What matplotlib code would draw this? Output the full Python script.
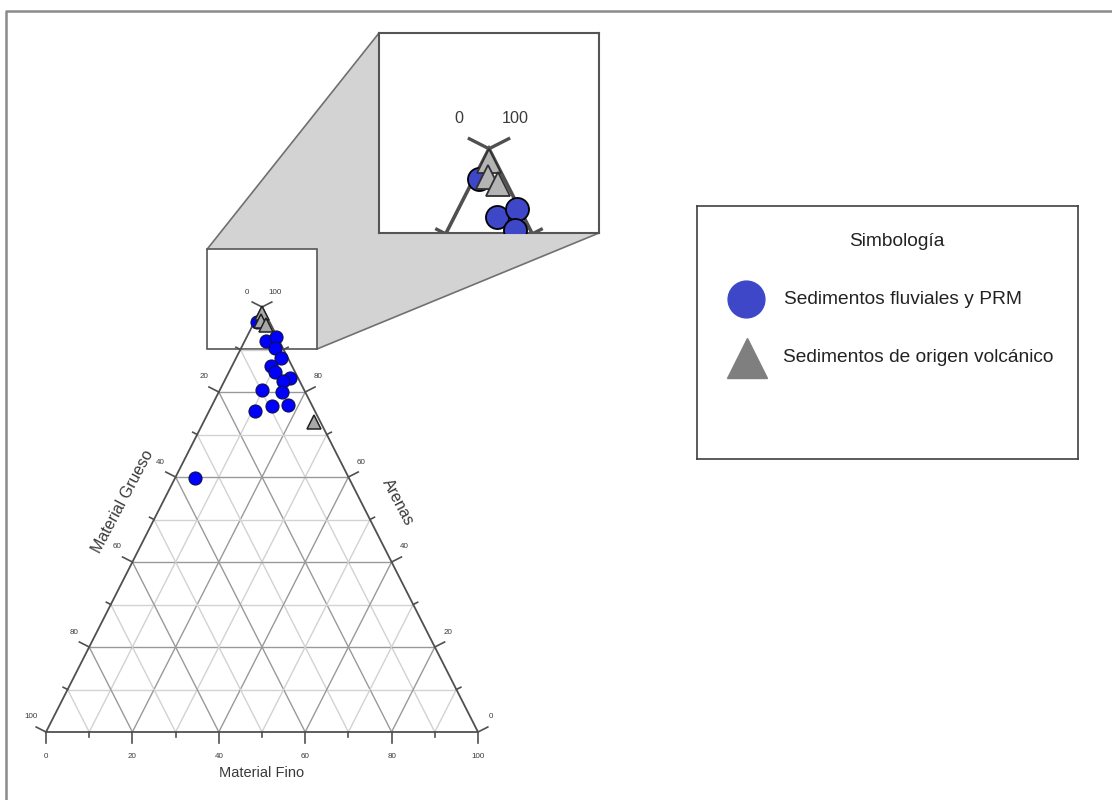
import numpy as np
import matplotlib
matplotlib.use('Agg')
import matplotlib.pyplot as plt
from matplotlib.patches import Polygon, Rectangle
from matplotlib.lines import Line2D

plt.rcParams['font.family'] = ['Liberation Sans', 'DejaVu Sans']

# Sedimentos fluviales y PRM (%)
fino_fluv = [0.6, 4.9, 6.8, 7.8, 10.4, 9.0, 10.7, 14.8, 13.6, 9.8, 14.6, 10.6, 14.0, 17.6, 4.6]
arenas_fluv = [96.5, 92.0, 92.9, 90.4, 88.0, 86.1, 84.7, 83.3, 82.6, 80.5, 80.0, 75.5, 76.7, 76.9, 59.8]
grueso_fluv = [2.9, 3.1, 0.3, 1.8, 1.6, 4.9, 4.6, 1.9, 3.8, 9.7, 5.4, 13.9, 9.3, 5.5, 35.6]

# Sedimentos de origen volcanico (%)
fino_volc = [25.6, 0.7, 1.5, 3.1]
arenas_volc = [72.9, 98.6, 96.7, 95.8]
grueso_volc = [1.5, 0.7, 1.8, 1.1]

tick_vals = [0, 20, 40, 60, 80, 100]

FW, FH = 1112, 800
X0, Y0, W, H = 46, 732, 432, 425      # triangle corner + size (px)
ZX, ZY = (37.3, 62.7), (90.1, 113.6)  # zoom window, data units

grid_major = '#999999'
grid_minor = '#d2d2d2'
edge_col = '#505050'
txt_col = '#3a3a3a'


def tern_xy(f, a, g):
    f, a, g = np.asarray(f, float), np.asarray(a, float), np.asarray(g, float)
    tot = f + a + g
    a = a / tot * 100
    f = f / tot * 100
    return f + a / 2, a


# outward normals of the side edges (pixel space)
nrm = np.hypot(H, W / 2)
nL = np.array([-H, W / 2]) / nrm
nR = np.array([H, W / 2]) / nrm
pxu_x, pxu_y = W / 100, H / 100


def draw_ternary(a, s, main):
    clip = not main
    for v in range(10, 100, 10):
        col = grid_major if v % 20 == 0 else grid_minor
        a.plot([v / 2, 100 - v / 2], [v, v], color=col, lw=1.0 * s, zorder=1, clip_on=clip)
        a.plot([v, v + (100 - v) / 2], [0, 100 - v], color=col, lw=1.0 * s, zorder=1, clip_on=clip)
        a.plot([100 - v, (100 - v) / 2], [0, 100 - v], color=col, lw=1.0 * s, zorder=1, clip_on=clip)
    a.plot([0, 100, 50, 0], [0, 0, 100, 0], color=edge_col, lw=1.3 * s, zorder=2,
           clip_on=clip, solid_joinstyle='miter')

    # ticks
    for v in range(0, 101, 10):
        L = 11 if v % 20 == 0 else 5
        # bottom
        a.plot([v, v], [0, -L / pxu_y], color=edge_col, lw=1.2 * s, zorder=2, clip_on=clip)
        # left
        px, py = v / 2, v
        a.plot([px, px + nL[0] * L / pxu_x], [py, py + nL[1] * L / pxu_y],
               color=edge_col, lw=1.2 * s, zorder=2, clip_on=clip)
        # right
        px = 100 - v / 2
        a.plot([px, px + nR[0] * L / pxu_x], [py, py + nR[1] * L / pxu_y],
               color=edge_col, lw=1.2 * s, zorder=2, clip_on=clip)

    for v in tick_vals:
        kw = dict(textcoords='offset pixels', ha='center', va='center',
                  fontsize=5.8 * s, color=txt_col, annotation_clip=clip)
        a.annotate(str(v), (v, 0), xytext=(0, -24 * s), **kw)
        a.annotate(str(100 - v), (v / 2, v), xytext=(-15 * s, 15 * s), **kw)
        a.annotate(str(v), (100 - v / 2, v), xytext=(13 * s, 15 * s), **kw)

    # data
    xf, yf = tern_xy(fino_fluv, arenas_fluv, grueso_fluv)
    xv, yv = tern_xy(fino_volc, arenas_volc, grueso_volc)
    if main:
        a.plot(xf, yf, 'o', ms=9.4, mfc='#0000ff', mec='#10104a', mew=0.8,
               ls='none', zorder=3, clip_on=False)
        a.plot(xv, yv, '^', ms=9.5, mfc='#a8a8a8', mec='#202020', mew=1.1,
               ls='none', zorder=4, clip_on=False)
    else:
        a.plot(xf, yf, 'o', ms=16.6, mfc='#3f47c9', mec='#000000', mew=1.3,
               ls='none', zorder=3, clip_on=True)
        a.plot(xv, yv, '^', ms=17, mfc='#b4b4b4', mec='#303030', mew=1.3,
               ls='none', zorder=4, clip_on=True)


fig = plt.figure(figsize=(FW / 100, FH / 100), dpi=100)

ax = fig.add_axes([X0 / FW, 1 - Y0 / FH, W / FW, H / FH])
ax.set_xlim(0, 100)
ax.set_ylim(0, 100)
ax.axis('off')
draw_ternary(ax, 1, True)

# axis titles
ax.annotate('Material Fino', (50, 0), xytext=(0, -41), textcoords='offset pixels',
            ha='center', va='center', fontsize=10.5, color=txt_col, annotation_clip=False)
ax.annotate('Material Grueso', (25, 50), xytext=(-31, 17.5), textcoords='offset pixels',
            ha='center', va='center', fontsize=11.5, rotation=62, color=txt_col,
            annotation_clip=False)
ax.annotate('Arenas', (75, 50), xytext=(28, 17.5), textcoords='offset pixels',
            ha='center', va='center', fontsize=11.5, rotation=-62, color=txt_col,
            annotation_clip=False)

# small zoom box
ax.add_patch(Rectangle((ZX[0], ZY[0]), ZX[1] - ZX[0], ZY[1] - ZY[0], facecolor='white',
                       edgecolor='#555555', lw=1.2, zorder=0.5, clip_on=False))

# zoomed inset
axin = fig.add_axes([379 / FW, 1 - 233 / FH, 220 / FW, 200 / FH], zorder=2)
axin.set_xlim(*ZX)
axin.set_ylim(*ZY)
axin.set_xticks([])
axin.set_yticks([])
for sp in axin.spines.values():
    sp.set_color('#555555')
    sp.set_linewidth(1.5)
draw_ternary(axin, 2, False)


def to_fig(a, x, y):
    return fig.transFigure.inverted().transform(a.transData.transform((x, y)))


conn = Polygon([to_fig(ax, ZX[0], ZY[1]), to_fig(axin, ZX[0], ZY[1]),
                to_fig(axin, ZX[1], ZY[0]), to_fig(ax, ZX[1], ZY[0])],
               closed=True, facecolor='#d3d3d3', edgecolor='#707070', lw=1.2,
               transform=fig.transFigure, zorder=-1)
fig.add_artist(conn)

# outer frame (top and left)
fig.add_artist(Line2D([6 / FW, 6 / FW, 1], [0, 1 - 11 / FH, 1 - 11 / FH],
                      color='#8a8a8a', lw=1.8, transform=fig.transFigure))

# legend box
lax = fig.add_axes([697 / FW, 1 - 459 / FH, 381 / FW, 253 / FH])
lax.set_xlim(0, 381)
lax.set_ylim(253, 0)
lax.set_xticks([])
lax.set_yticks([])
for sp in lax.spines.values():
    sp.set_color('#404040')
    sp.set_linewidth(1.2)
lax.text(200, 36, 'Simbología', ha='center', va='center', fontsize=13.8, color='#222222')
lax.plot(49, 93, 'o', ms=26.5, color='#3f47c9')
lax.text(87, 94, 'Sedimentos fluviales y PRM', va='center', fontsize=13.8, color='#222222')
lax.plot(50, 152, '^', ms=28.5, color='#7f7f7f')
lax.text(86, 151, 'Sedimentos de origen volcánico', va='center', fontsize=13.8, color='#222222')

fig.savefig('out.png', dpi=100)
